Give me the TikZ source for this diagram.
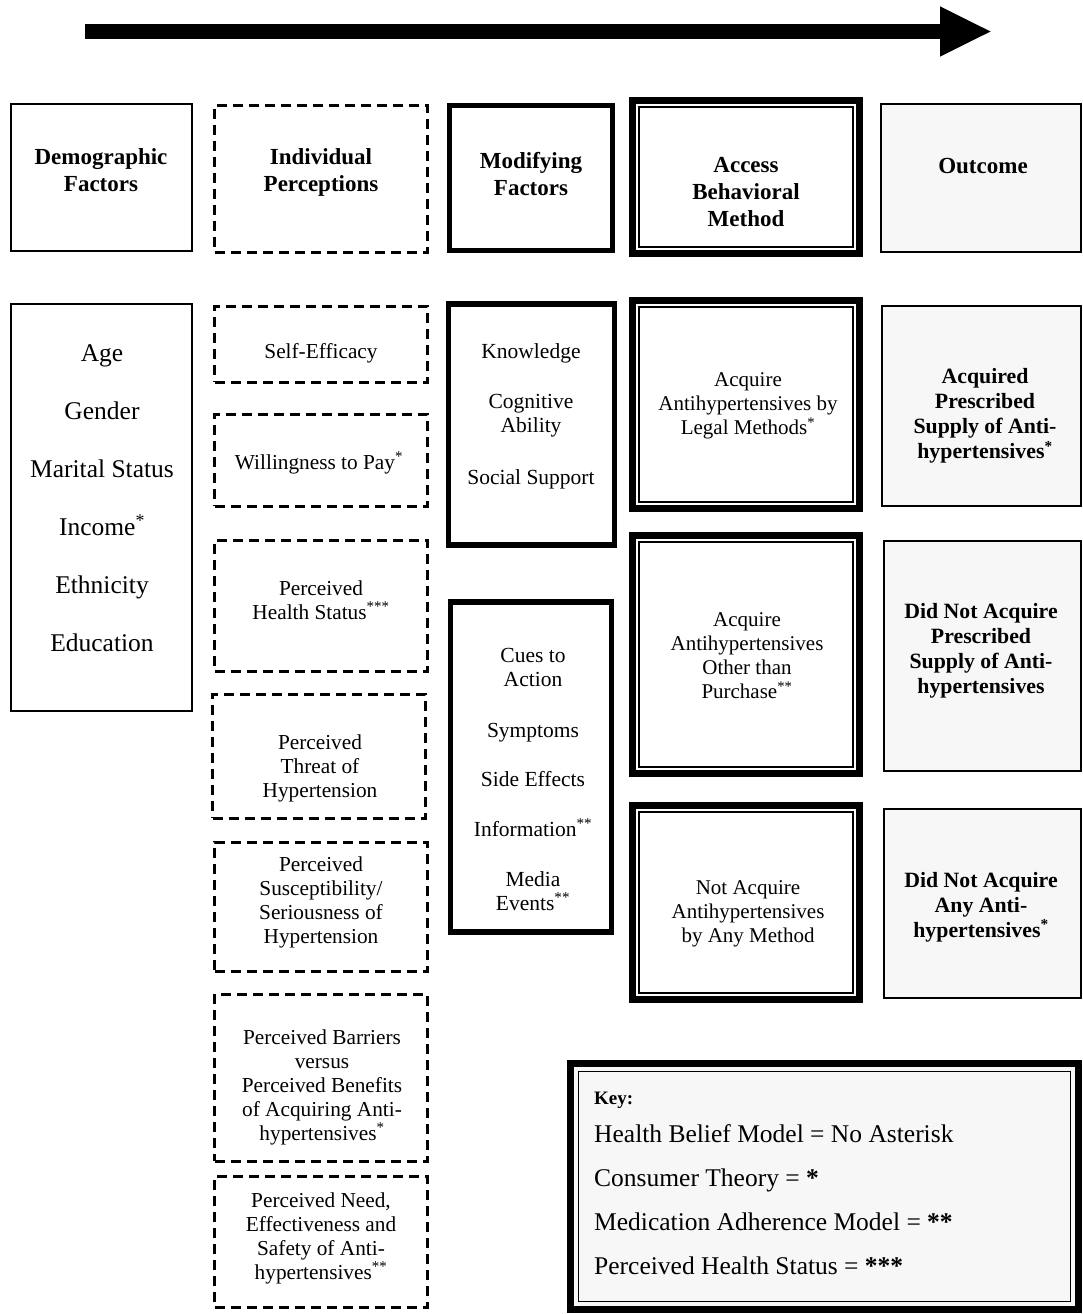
\documentclass[tikz,border=0pt]{standalone}
\usepackage{fontspec}
\setmainfont{Liberation Serif}
\usetikzlibrary{arrows.meta}
% box from its corner coordinates (line midlines): style, name, x1, y1, x2, y2
\newcommand\rbox[6]{\node[#1, minimum width={#5-#3}, minimum height={#6-#4}] (#2) at ({(#3+#5)/2},{(#4+#6)/2}) {};}
% thin inner line of a double frame
\newcommand\innerframe[2]{\draw[line width=1.5pt] ([shift={(#2,#2)}]#1.north west) rectangle ([shift={(-#2,-#2)}]#1.south east);}
\newcommand\onestar{\textsuperscript{*}}
\newcommand\twostar{\textsuperscript{**}}
\newcommand\threestar{\textsuperscript{***}}
\begin{document}
\begin{tikzpicture}[x=1pt,y=-1pt,
  frame/.style={rectangle, draw=black, inner sep=0pt, outer sep=0pt},
  plainbox/.style={frame, line width=2pt},
  dashbox/.style={frame, line width=3pt, dash pattern=on 10pt off 6pt},
  heavybox/.style={frame, line width=5.5pt},
  doublebox/.style={frame, line width=7pt},
  outbox/.style={frame, line width=2pt, fill=black!3},
  hdrtxt/.style={align=center, font=\fontsize{23}{27}\selectfont\bfseries},
  demotxt/.style={align=center, font=\fontsize{25.5}{58}\selectfont},
  indtxt/.style={align=center, font=\fontsize{21.3}{24}\selectfont},
  modtxt/.style={align=center, font=\fontsize{21.5}{24}\selectfont},
  acctxt/.style={align=center, font=\fontsize{21}{24}\selectfont},
  outtxt/.style={align=center, font=\fontsize{21.8}{25}\selectfont\bfseries},
  keytxt/.style={align=left, font=\fontsize{25.5}{44}\selectfont}
]
\useasboundingbox (0,0) rectangle (1082,1314);

% direction of the process
\coordinate (flowstart) at (85,31.5);
\coordinate (flowend) at (992,31.5);
\draw[line width=15pt, -{Triangle[length=52pt,width=46pt]}] (flowstart) -- (flowend);

% column headings
\rbox{plainbox}{hdemo}{11}{104}{192}{251}
\rbox{dashbox}{hind}{214.5}{105}{427}{252.5}
\rbox{heavybox}{hmod}{449.5}{105.5}{612.5}{250.5}
\rbox{doublebox}{hacc}{632.5}{100.5}{859.5}{253.5}
\innerframe{hacc}{6.5}
\rbox{outbox}{hout}{881}{104}{1081}{252}

\node[hdrtxt] (thdemo) at (101,170) {Demographic\\Factors};
\node[hdrtxt] (thind) at (321,172) {Individual\\Perceptions};
\node[hdrtxt] (thmod) at (531,174) {Modifying\\Factors};
\node[hdrtxt] (thacc) at (746,192) {Access\\Behavioral\\Method};
\node[hdrtxt] (thout) at (983,166) {Outcome};

% demographic factors
\rbox{plainbox}{demo}{11}{304}{192}{711}
\node[demotxt] (tdemo) at (102,498) {Age\\Gender\\Marital Status\\Income\onestar\\Ethnicity\\Education};

% individual perceptions
\rbox{dashbox}{ind1}{214.5}{306}{427}{382}
\rbox{dashbox}{ind2}{214.5}{414}{427}{506}
\rbox{dashbox}{ind3}{214.5}{540}{427}{671}
\rbox{dashbox}{ind4}{212.5}{694}{425}{818}
\rbox{dashbox}{ind5}{214.5}{842}{427}{971}
\rbox{dashbox}{ind6}{214.5}{994}{427}{1161}
\rbox{dashbox}{ind7}{214.5}{1176}{427}{1307}

\node[indtxt] (tind1) at (321,353) {Self-Efficacy};
\node[indtxt] (tind2) at (319,463) {Willingness to Pay\onestar};
\node[indtxt] (tind3) at (321,600) {Perceived\\Health Status\threestar};
\node[indtxt] (tind4) at (320,768) {Perceived\\Threat of\\Hypertension};
\node[indtxt] (tind5) at (321,902) {Perceived\\Susceptibility/\\Seriousness of\\Hypertension};
\node[indtxt] (tind6) at (322,1087) {Perceived Barriers\\versus\\Perceived Benefits\\of Acquiring Anti-\\hypertensives\onestar};
\node[indtxt] (tind7) at (321,1238) {Perceived Need,\\Effectiveness and\\Safety of Anti-\\hypertensives\twostar};

% modifying factors
\rbox{heavybox}{mod1}{448.5}{304}{614.5}{545}
\rbox{heavybox}{mod2}{450.5}{602}{611.5}{932}
\node[modtxt] (tmod1) at (531,416) {Knowledge\\[26pt]Cognitive\\Ability\\[28pt]Social Support};
\node[modtxt] (tmod2) at (533,779) {Cues to\\Action\\[27pt]Symptoms\\[25pt]Side Effects\\[26pt]Information\twostar\\[26pt]Media\\Events\twostar};

% access behavioral methods
\rbox{doublebox}{acc1}{632.5}{300.5}{859.5}{508.5}
\innerframe{acc1}{6.5}
\rbox{doublebox}{acc2}{632.5}{535.5}{859.5}{773.5}
\innerframe{acc2}{6.5}
\rbox{doublebox}{acc3}{632.5}{805.5}{859.5}{999.5}
\innerframe{acc3}{6.5}
\node[acctxt] (tacc1) at (748,406) {Acquire\\Antihypertensives by\\Legal Methods\onestar};
\node[acctxt] (tacc2) at (747,656) {Acquire\\Antihypertensives\\Other than\\Purchase\twostar};
\node[acctxt] (tacc3) at (748,914) {Not Acquire\\Antihypertensives\\by Any Method};

% outcomes
\rbox{outbox}{out1}{882}{306}{1081}{506}
\rbox{outbox}{out2}{884}{541}{1081}{771}
\rbox{outbox}{out3}{884}{809}{1081}{998}
\node[outtxt] (tout1) at (985,416) {Acquired\\Prescribed\\Supply of Anti-\\hypertensives\onestar};
\node[outtxt] (tout2) at (981,651) {Did Not Acquire\\Prescribed\\Supply of Anti-\\hypertensives};
\node[outtxt] (tout3) at (981,907) {Did Not Acquire\\Any Anti-\\hypertensives\onestar};

% key
\rbox{doublebox, fill=black!3}{key}{570.5}{1063.5}{1078.5}{1309.5}
\innerframe{key}{8}
\node[keytxt, inner sep=0pt, anchor=west] (tkey) at (594,1183) {{\fontsize{19}{19}\selectfont\bfseries Key:}\\[-6pt]Health Belief Model = No Asterisk\\Consumer Theory = \textbf{*}\\Medication Adherence Model = \textbf{**}\\Perceived Health Status = \textbf{***}};
\end{tikzpicture}
\end{document}
